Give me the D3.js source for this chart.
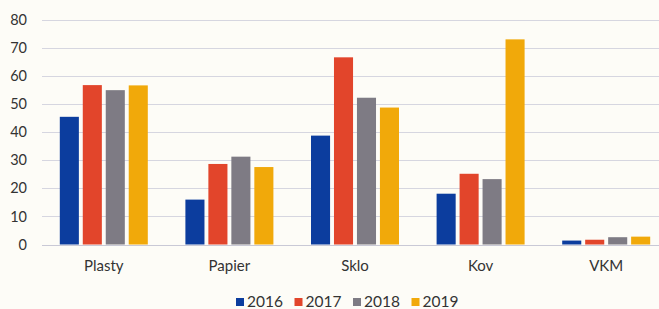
<!DOCTYPE html>
<html>
<head>
<meta charset="utf-8">
<script src="https://cdn.jsdelivr.net/npm/d3@7"></script>
<style>
  html, body { margin: 0; padding: 0; background: #fdfcf7; }
  svg { display: block; font-family: Lato, "Open Sans", sans-serif; }
</style>
</head>
<body>
<svg id="chart"></svg>
<script>
const categories = ["Plasty", "Papier", "Sklo", "Kov", "VKM"];
const years = ["2016", "2017", "2018", "2019"];
const values2016 = [45.5, 16.0, 38.8, 18.1, 1.4];
const values2017 = [56.8, 28.7, 66.7, 25.2, 1.7];
const values2018 = [55.0, 31.3, 52.3, 23.3, 2.6];
const values2019 = [56.7, 27.6, 48.8, 73.1, 2.8];
const yTicks = [0, 10, 20, 30, 40, 50, 60, 70, 80];
const colors = ["#0c3d9e", "#e2452b", "#7e7b84", "#f1a90a"];

const series = [values2016, values2017, values2018, values2019];
const data = categories.map((c, i) => ({
  cat: c,
  vals: years.map((y, j) => ({ year: y, value: series[j][i] }))
}));

const W = 659, H = 309;
const svg = d3.select("#chart").attr("width", W).attr("height", H);

// plot area runs past the right edge, like the scanned source
const x = d3.scaleBand().domain(categories).range([41, 669]).paddingInner(0).paddingOuter(0);
const y = d3.scaleLinear().domain([0, 80]).range([244.5, 20]);
const GROUP_W = 88;
const xi = d3.scaleBand().domain(years).range([0, GROUP_W]).paddingInner(0.17).paddingOuter(0);

// gridlines
svg.append("g")
  .selectAll("line")
  .data(yTicks)
  .join("line")
  .attr("x1", 42)
  .attr("x2", W)
  .attr("y1", d => Math.round(y(d)) + 0.5)
  .attr("y2", d => Math.round(y(d)) + 0.5)
  .attr("stroke", d => d === 0 ? "#c9c9d6" : "#d6d6e0")
  .attr("stroke-width", 1);

// y tick labels
svg.append("g")
  .selectAll("text")
  .data(yTicks)
  .join("text")
  .attr("x", 27)
  .attr("y", d => y(d))
  .attr("dy", "0.35em")
  .attr("text-anchor", "end")
  .style("font-size", "14.5px")
  .style("fill", "#333")
  .text(d => d);

// bars
const groups = svg.append("g")
  .selectAll("g")
  .data(data)
  .join("g")
  .attr("transform", d => `translate(${x(d.cat) + (x.bandwidth() - GROUP_W) / 2},0)`);

groups.selectAll("rect")
  .data(d => d.vals)
  .join("rect")
  .attr("x", d => xi(d.year))
  .attr("y", d => y(d.value))
  .attr("width", xi.bandwidth())
  .attr("height", d => y(0) - y(d.value))
  .attr("fill", (d, i) => colors[i]);

// category labels
svg.append("g")
  .selectAll("text")
  .data(categories)
  .join("text")
  .attr("x", d => x(d) + x.bandwidth() / 2)
  .attr("y", 266)
  .attr("dy", "0.35em")
  .attr("text-anchor", "middle")
  .style("font-size", "15px")
  .style("fill", "#333")
  .text(d => d);

// legend
const legend = svg.append("g").attr("transform", "translate(236,302)");
const item = legend.selectAll("g")
  .data(years)
  .join("g")
  .attr("transform", (d, i) => `translate(${i * 58.5},0)`);

item.append("rect")
  .attr("x", 0)
  .attr("y", -4)
  .attr("width", 8)
  .attr("height", 8)
  .attr("fill", (d, i) => colors[i]);

item.append("text")
  .attr("x", 11)
  .attr("y", 0)
  .attr("dy", "0.35em")
  .style("font-size", "15.5px")
  .style("fill", "#333")
  .text(d => d);
</script>
</body>
</html>
